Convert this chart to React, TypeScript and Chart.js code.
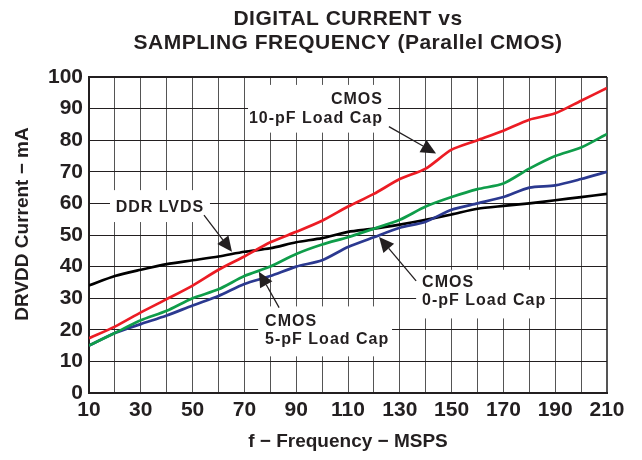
import React, { useEffect, useRef } from 'react';
import { Chart, registerables } from 'chart.js';

Chart.register(...registerables);

// ---- data ----
const frequencies = [10, 20, 30, 40, 50, 60, 70, 80, 90, 100, 110, 120, 130, 140, 150, 160, 170, 180, 190, 200, 210];
const cmos10pF = [17.3, 21, 25.5, 29.7, 34, 39, 43.2, 47.7, 51, 54.5, 59, 63, 67.7, 71, 77, 80, 83, 86.5, 88.5, 92.5, 96.5];
const cmos5pF = [15, 19, 23, 26, 30, 32.8, 37, 40, 44, 47, 49.3, 52, 54.8, 59, 62, 64.5, 66.3, 71, 75, 77.7, 82];
const cmos0pF = [15, 19, 21.8, 24.5, 27.7, 30.7, 34.5, 37, 40, 42, 46.2, 49.3, 52.3, 54.2, 58, 60, 62, 65, 65.7, 67.7, 70];
const ddrLvds = [34, 37, 39, 40.8, 42, 43.2, 44.7, 45.8, 47.7, 49, 51, 52, 53.3, 54.8, 56.5, 58.3, 59.2, 60, 61, 62, 63];
const xTickLabels = [10, 30, 50, 70, 90, 110, 130, 150, 170, 190, 210];
const titleLines = ['DIGITAL CURRENT vs', 'SAMPLING FREQUENCY (Parallel CMOS)'];
const xAxisTitle = 'f \u2212 Frequency \u2212 MSPS';
const yAxisTitle = 'DRVDD Current \u2212 mA';

// annotations (in data units)
const annotations = [
  { lines: ['CMOS', '10-pF Load Cap'], align: 'right', tx: 123.5, ty: [92.8, 86.8], box: [71.4, 125.4, 97.5, 82.4], arrow: [125.8, 84.3, 144, 75.8] },
  { lines: ['DDR LVDS'], align: 'center', tx: 37.4, ty: [58.8], box: [18.1, 56.7, 64.2, 54.1], arrow: [54.4, 56.3, 65.2, 44.7] },
  { lines: ['CMOS', '5-pF Load Cap'], align: 'left', tx: 78, ty: [22.6, 17], box: [75.3, 127, 27.4, 11.6], arrow: [83.4, 27, 75.6, 38.4] },
  { lines: ['CMOS', '0-pF Load Cap'], align: 'left', tx: 138.6, ty: [34.9, 29.2], box: [136.3, 188, 39, 23.6], arrow: [136.3, 35.5, 122, 49.4] },
];

const FONT = '"Liberation Sans", Arial, Helvetica, sans-serif';
const TEXT = '#231f20';

const toPoints = (ys: number[]) => frequencies.map((f, i) => ({ x: f, y: ys[i] }));

const annotPlugin = {
  id: 'annots',
  beforeDatasetsDraw(chart: any) {
    const { ctx, scales } = chart;
    const x = scales.x, y = scales.y;
    ctx.save();
    for (const a of annotations) {
      const [x0, x1, y0, y1] = a.box;
      const px0 = x.getPixelForValue(x0), px1 = x.getPixelForValue(x1);
      const py0 = y.getPixelForValue(y0), py1 = y.getPixelForValue(y1);
      ctx.fillStyle = '#ffffff';
      ctx.fillRect(px0, py0, px1 - px0, py1 - py0);
      ctx.fillStyle = TEXT;
      ctx.font = `bold 16px ${FONT}`;
      (ctx as any).letterSpacing = '1px';
      ctx.textAlign = a.align;
      ctx.textBaseline = 'middle';
      a.lines.forEach((t, i) => ctx.fillText(t, x.getPixelForValue(a.tx), y.getPixelForValue(a.ty[i])));
    }
    ctx.restore();
  },
  afterDatasetsDraw(chart: any) {
    const { ctx, scales } = chart;
    const x = scales.x, y = scales.y;
    ctx.save();
    for (const a of annotations) {
      const sx = x.getPixelForValue(a.arrow[0]), sy = y.getPixelForValue(a.arrow[1]);
      const ex = x.getPixelForValue(a.arrow[2]), ey = y.getPixelForValue(a.arrow[3]);
      const ang = Math.atan2(ey - sy, ex - sx);
      const len = 15, hw = 7;
      const bx = ex - len * Math.cos(ang), by = ey - len * Math.sin(ang);
      ctx.strokeStyle = TEXT;
      ctx.lineWidth = 1.3;
      ctx.beginPath();
      ctx.moveTo(sx, sy);
      ctx.lineTo(bx, by);
      ctx.stroke();
      ctx.fillStyle = TEXT;
      ctx.beginPath();
      ctx.moveTo(ex, ey);
      ctx.lineTo(bx + hw * Math.sin(ang), by - hw * Math.cos(ang));
      ctx.lineTo(bx - hw * Math.sin(ang), by + hw * Math.cos(ang));
      ctx.closePath();
      ctx.fill();
    }
    ctx.restore();
  },
  afterDraw(chart: any) {
    const { ctx, chartArea } = chart;
    ctx.save();
    ctx.fillStyle = TEXT;
    ctx.font = `bold 21px ${FONT}`;
    (ctx as any).letterSpacing = '0.5px';
    ctx.textAlign = 'center';
    ctx.textBaseline = 'middle';
    const cx = (chartArea.left + chartArea.right) / 2;
    ctx.fillText(titleLines[0], cx, 19);
    ctx.fillText(titleLines[1], cx, 43);
    // y-axis title
    (ctx as any).letterSpacing = '0px';
    ctx.font = `bold 19px ${FONT}`;
    ctx.translate(22.5, 224);
    ctx.rotate(-Math.PI / 2);
    ctx.fillText(yAxisTitle, 0, 0);
    ctx.restore();
  },
};

export default function App() {
  const ref = useRef<HTMLCanvasElement>(null);
  useEffect(() => {
    if (!ref.current) return;
    const chart = new Chart(ref.current, {
      type: 'line',
      data: {
        datasets: [
          { label: 'CMOS 10-pF', data: toPoints(cmos10pF), borderColor: '#ec1c24', borderWidth: 2.7, pointRadius: 0, tension: 0.25 },
          { label: 'CMOS 5-pF', data: toPoints(cmos5pF), borderColor: '#0f9d4a', borderWidth: 2.7, pointRadius: 0, tension: 0.25 },
          { label: 'CMOS 0-pF', data: toPoints(cmos0pF), borderColor: '#2b3990', borderWidth: 2.7, pointRadius: 0, tension: 0.25 },
          { label: 'DDR LVDS', data: toPoints(ddrLvds), borderColor: '#000000', borderWidth: 2.7, pointRadius: 0, tension: 0.25 },
        ],
      },
      options: {
        responsive: false,
        animation: false,
        devicePixelRatio: 1,
        layout: { padding: { top: 77, right: 35, left: 0, bottom: 0 } },
        plugins: { legend: { display: false }, tooltip: { enabled: false }, title: { display: false } },
        scales: {
          x: {
            type: 'linear',
            min: 10,
            max: 210,
            afterFit: (s: any) => { s.height = 67; },
            ticks: {
              stepSize: 10,
              autoSkip: false,
              maxRotation: 0,
              padding: 5,
              color: TEXT,
              font: { family: FONT, size: 21, weight: 'bold' },
              callback: (v: any) => (xTickLabels.includes(v) ? String(v) : ''),
            },
            grid: {
              color: '#555555',
              lineWidth: (c: any) => (c.tick && c.tick.value === 210 ? 2 : 1),
              drawTicks: false,
            },
            border: { color: TEXT, width: 2 },
            title: {
              display: true,
              text: xAxisTitle,
              color: TEXT,
              font: { family: FONT, size: 19, weight: 'bold' },
              padding: { top: 0, bottom: 7 },
            },
          },
          y: {
            min: 0,
            max: 100,
            afterFit: (s: any) => { s.width = 89; },
            ticks: {
              stepSize: 10,
              padding: 6,
              color: TEXT,
              font: { family: FONT, size: 21, weight: 'bold' },
            },
            grid: {
              color: '#231f20',
              lineWidth: (c: any) => (c.tick && c.tick.value === 100 ? 2 : 1),
              drawTicks: false,
            },
            border: { color: TEXT, width: 2 },
          },
        },
      },
      plugins: [annotPlugin],
    });
    return () => chart.destroy();
  }, []);
  return (
    <div style={{ position: 'fixed', left: 0, top: 0, width: 642, height: 460, background: '#fff' }}>
      <canvas ref={ref} width={642} height={460} style={{ width: 642, height: 460, display: 'block' }} />
    </div>
  );
}
